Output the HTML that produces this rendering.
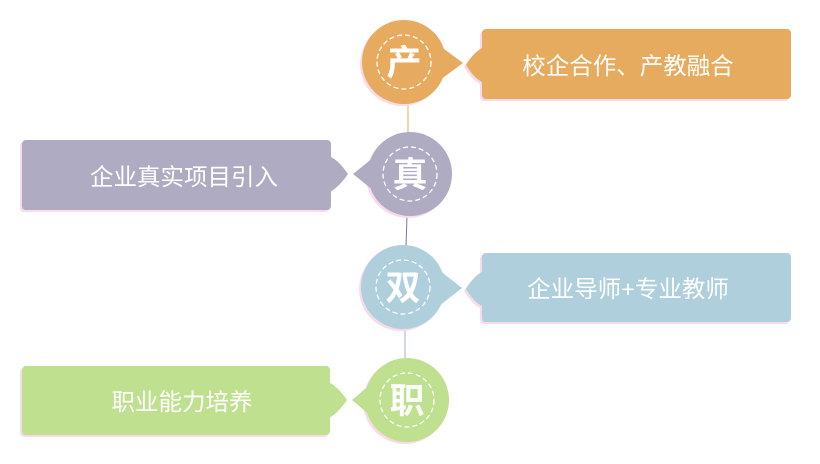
<!DOCTYPE html>
<html><head><meta charset="utf-8"><style>
html,body{margin:0;padding:0;background:#fff;width:820px;height:464px;overflow:hidden}
svg text{font-family:"Liberation Sans","Noto Sans CJK SC",sans-serif;fill:#fff}
</style></head><body>
<svg width="820" height="464" viewBox="0 0 820 464" xmlns="http://www.w3.org/2000/svg">
<line x1="408" y1="104" x2="408" y2="133" stroke="#E6AB5E" stroke-width="1"/>
<line x1="407" y1="216" x2="406" y2="246" stroke="#7a72a0" stroke-width="1"/>
<line x1="405" y1="329" x2="405" y2="358" stroke="#9fb6cc" stroke-width="1"/>

<g transform="translate(-2,2)" fill="#f8dbe8">
<path d="M486,29 H787 a4 4 0 0 1 4 4 V95 a4 4 0 0 1 -4 4 H486 a4 4 0 0 1 -4 -4 V82 Q474,78 466,65 Q474,52 482,48 V33 a4 4 0 0 1 4 -4Z"/></g>
<path fill="#E6AB5E" d="M486,29 H787 a4 4 0 0 1 4 4 V95 a4 4 0 0 1 -4 4 H486 a4 4 0 0 1 -4 -4 V82 Q474,78 466,65 Q474,52 482,48 V33 a4 4 0 0 1 4 -4Z"/>
<text x="628" y="74" font-size="23.5" text-anchor="middle">校企合作、产教融合</text>

<g transform="translate(-2,2)" fill="#f8dbe8">
<path d="M26,140 H327 a4 4 0 0 1 4 4 V157 Q339,161 348,174 Q339,187 331,191 V206 a4 4 0 0 1 -4 4 H26 a4 4 0 0 1 -4 -4 V144 a4 4 0 0 1 4 -4Z"/></g>
<path fill="#AEABC2" d="M26,140 H327 a4 4 0 0 1 4 4 V157 Q339,161 348,174 Q339,187 331,191 V206 a4 4 0 0 1 -4 4 H26 a4 4 0 0 1 -4 -4 V144 a4 4 0 0 1 4 -4Z"/>
<text x="184" y="185" font-size="23.5" text-anchor="middle">企业真实项目引入</text>

<g transform="translate(-2,2)" fill="#f8dbe8">
<path d="M486,253 H787 a4 4 0 0 1 4 4 V318 a4 4 0 0 1 -4 4 H486 a4 4 0 0 1 -4 -4 V306 Q474,302 466,289 Q474,276 482,272 V257 a4 4 0 0 1 4 -4Z"/></g>
<path fill="#AECFDB" d="M486,253 H787 a4 4 0 0 1 4 4 V318 a4 4 0 0 1 -4 4 H486 a4 4 0 0 1 -4 -4 V306 Q474,302 466,289 Q474,276 482,272 V257 a4 4 0 0 1 4 -4Z"/>
<text x="628" y="297" font-size="23.5" text-anchor="middle">企业导师+专业教师</text>

<g transform="translate(-2,2)" fill="#f8dbe8">
<path d="M26,366 H326 a4 4 0 0 1 4 4 V383 Q338,387 347,400 Q338,413 330,417 V431 a4 4 0 0 1 -4 4 H26 a4 4 0 0 1 -4 -4 V370 a4 4 0 0 1 4 -4Z"/></g>
<path fill="#BFE08E" d="M26,366 H326 a4 4 0 0 1 4 4 V383 Q338,387 347,400 Q338,413 330,417 V431 a4 4 0 0 1 -4 4 H26 a4 4 0 0 1 -4 -4 V370 a4 4 0 0 1 4 -4Z"/>
<text x="182" y="410" font-size="23.5" text-anchor="middle">职业能力培养</text>

<circle cx="402" cy="64" r="42" fill="#f8dbe8"/>
<path fill="#E6AB5E" d="M440,46 L463,63 L440,80Z"/>
<circle cx="404" cy="62" r="42" fill="#E6AB5E"/>
<circle cx="404" cy="62" r="27" fill="none" stroke="#fff" stroke-width="1.3" stroke-dasharray="5,3"/>
<text x="404" y="75" font-size="35" font-weight="bold" text-anchor="middle">产</text>

<circle cx="408" cy="176" r="42" fill="#f8dbe8"/>
<path fill="#AEABC2" d="M374,157 L353,174 L374,191Z"/>
<circle cx="410" cy="174" r="42" fill="#AEABC2"/>
<circle cx="410" cy="174" r="27" fill="none" stroke="#fff" stroke-width="1.3" stroke-dasharray="5,3"/>
<text x="410" y="187" font-size="35" font-weight="bold" text-anchor="middle">真</text>

<circle cx="401" cy="289" r="42" fill="#f8dbe8"/>
<path fill="#AECFDB" d="M439,270 L462,288 L439,306Z"/>
<circle cx="403" cy="287" r="42" fill="#AECFDB"/>
<circle cx="403" cy="287" r="27" fill="none" stroke="#fff" stroke-width="1.3" stroke-dasharray="5,3"/>
<text x="403" y="300" font-size="35" font-weight="bold" text-anchor="middle">双</text>

<circle cx="405" cy="402" r="42" fill="#f8dbe8"/>
<path fill="#BFE08E" d="M372,383 L352,400 L372,417Z"/>
<circle cx="407" cy="400" r="42" fill="#BFE08E"/>
<circle cx="407" cy="400" r="27" fill="none" stroke="#fff" stroke-width="1.3" stroke-dasharray="5,3"/>
<text x="407" y="413" font-size="35" font-weight="bold" text-anchor="middle">职</text>
</svg>
</body></html>
